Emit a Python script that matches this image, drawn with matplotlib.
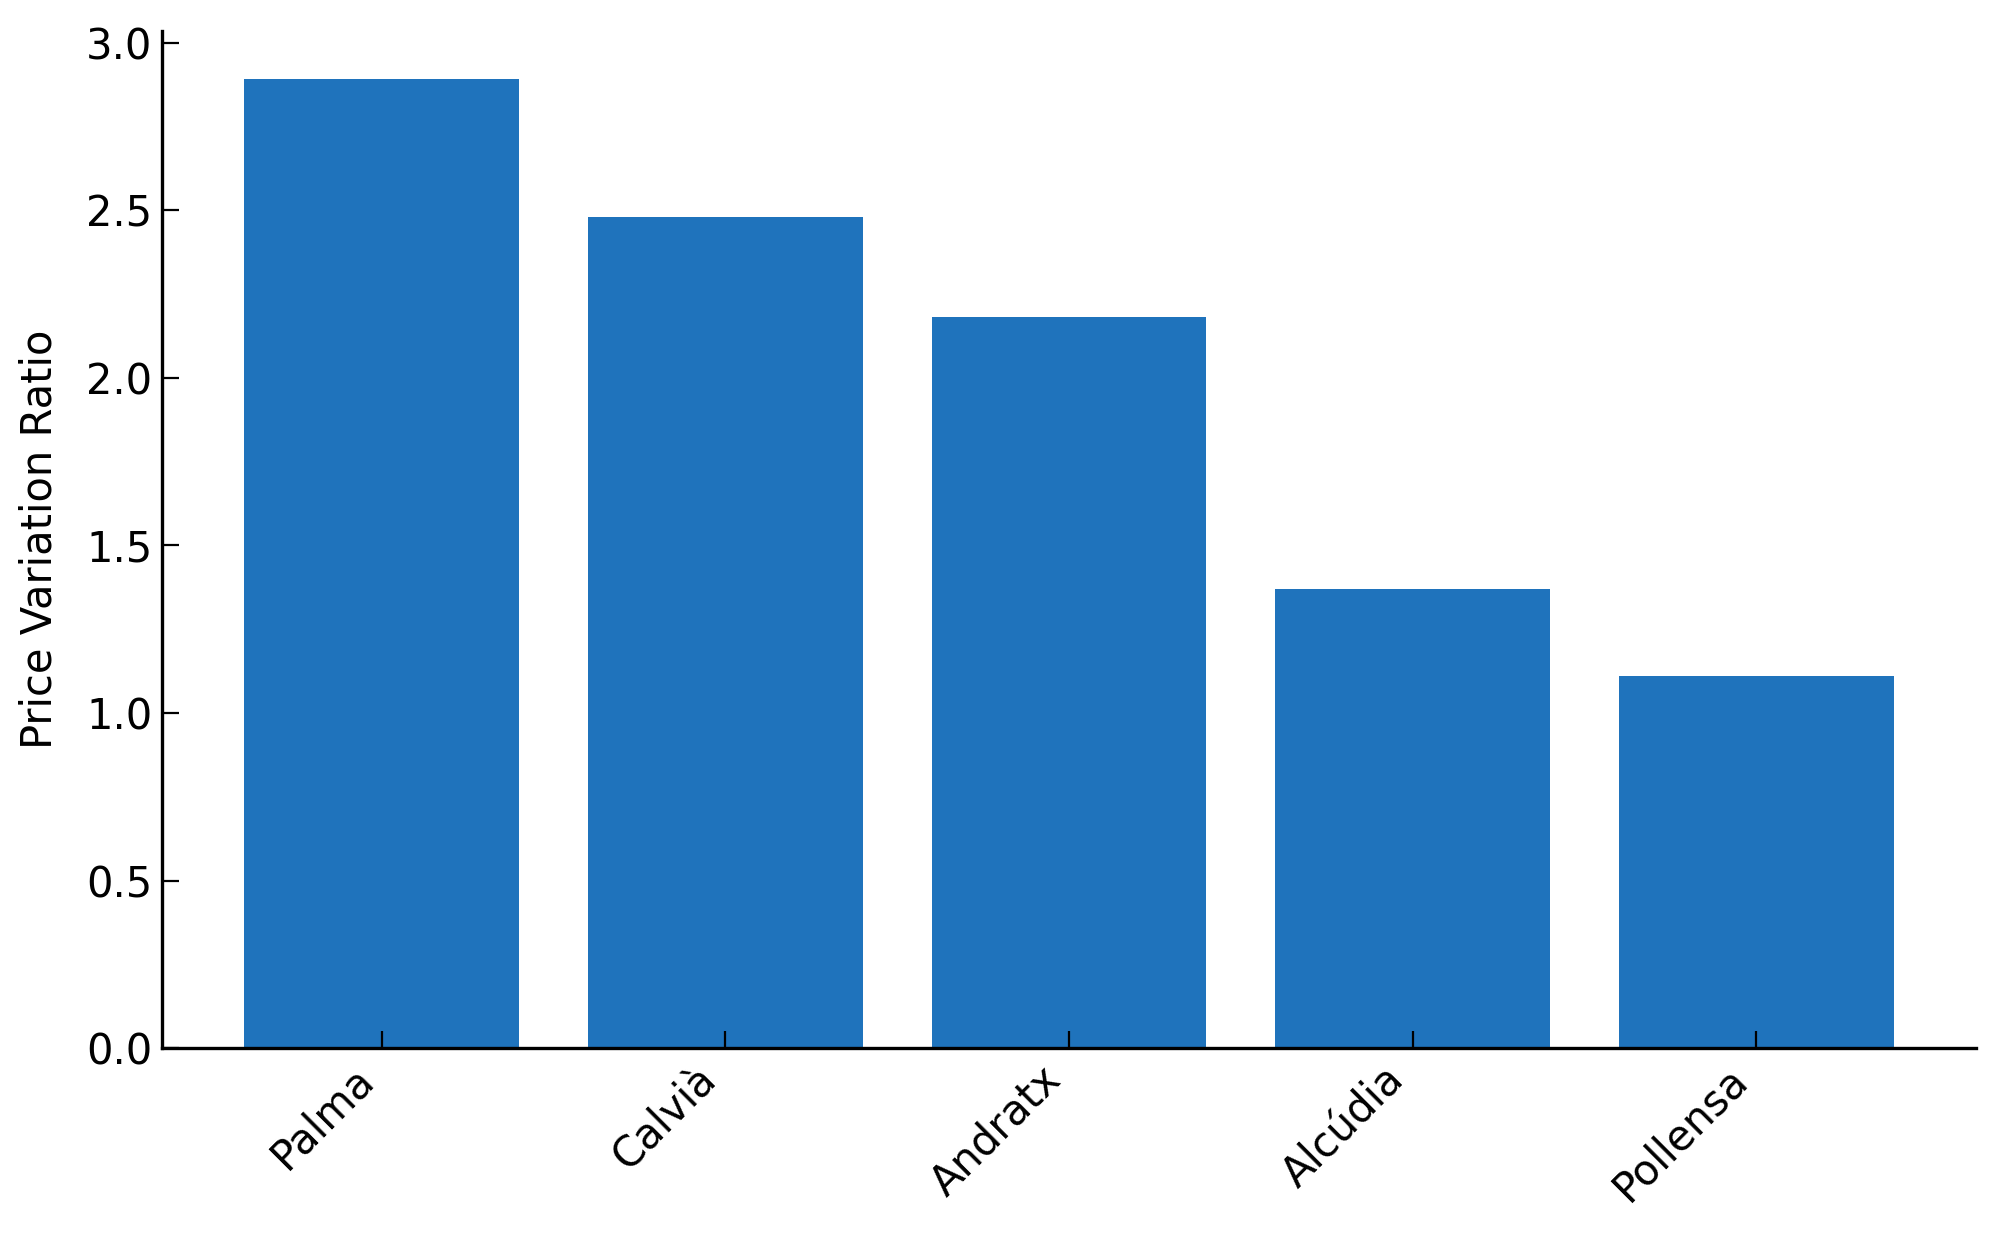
import matplotlib.pyplot as plt

towns = ["Palma", "Calvià", "Andratx", "Alcúdia", "Pollensa"]
ratios = [2.89, 2.48, 2.18, 1.37, 1.11]

fig, ax = plt.subplots(figsize=(10, 6.195), dpi=200)
fig.subplots_adjust(left=0.081, right=0.988, top=0.975, bottom=0.154)

ax.bar(towns, ratios, color="#1f73bc", width=0.8)
ax.set_ylabel("Price Variation Ratio", fontsize=15, labelpad=9)
ax.tick_params(axis="both", direction="in", labelsize=15, length=6)
plt.setp(ax.get_xticklabels(), rotation=45, ha="right", rotation_mode="default")
ax.spines["top"].set_visible(False)
ax.spines["right"].set_visible(False)
ax.spines["left"].set_linewidth(1.2)
ax.spines["bottom"].set_linewidth(1.2)

plt.savefig("out.png")
